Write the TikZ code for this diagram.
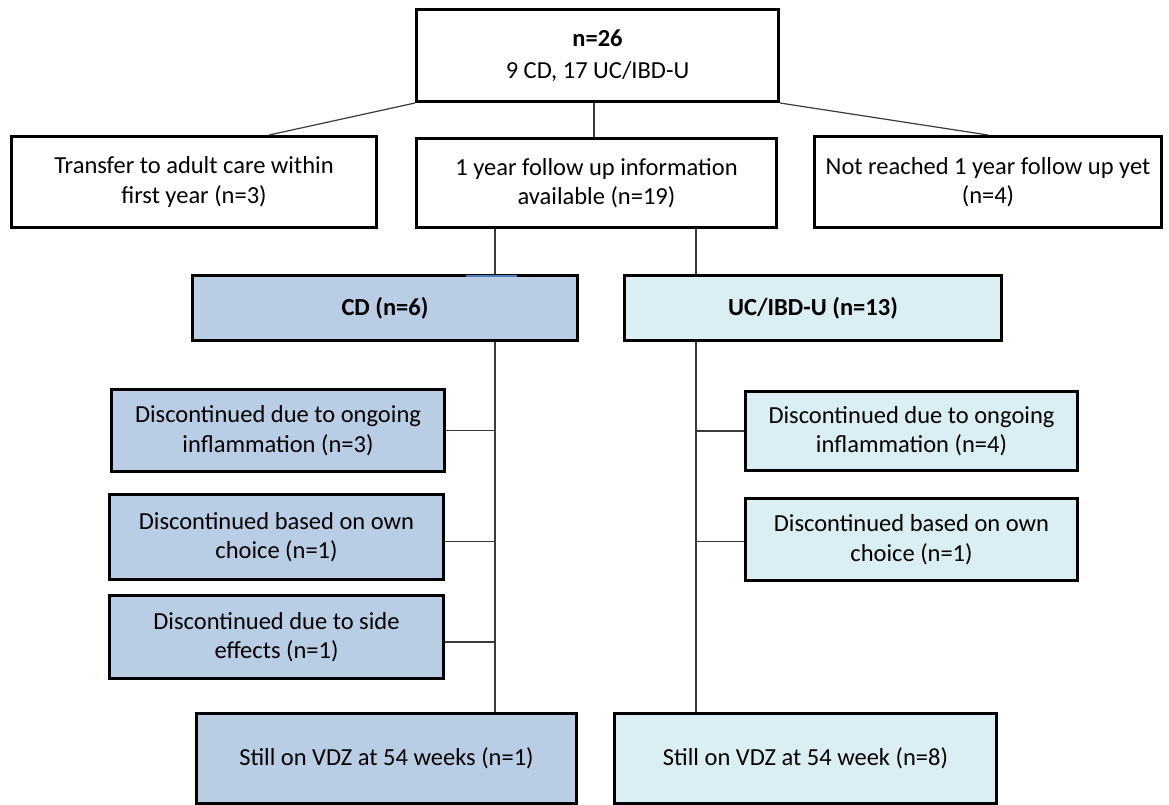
\documentclass[tikz,border=0pt]{standalone}
\usepackage{fontspec}
\setmainfont{Carlito}
\usetikzlibrary{calc}
\definecolor{cdfill}{HTML}{B9CDE5}
\definecolor{ucfill}{HTML}{DBEEF4}
\definecolor{connc}{HTML}{3A3A3A}
\definecolor{artc}{HTML}{4A7EBB}
\begin{document}
\begin{tikzpicture}[x=1pt,y=-1pt,
  box/.style={draw=black, line width=3pt, inner sep=0pt, anchor=north west, align=center,
    font=\fontsize{24.5}{29.5}\selectfont},
  cdbox/.style={box, fill=cdfill},
  ucbox/.style={box, fill=ucfill},
  conn/.style={draw=connc, line width=1.2pt}]
\useasboundingbox (0,0) rectangle (1169,804);
\fill[white] (0,0) rectangle (1169,804);
% top
\node[box, minimum width=362pt, minimum height=92pt, font=\fontsize{24.5}{32}\selectfont] (top) at (415,8) {\textbf{n=26}\\9 CD, 17 UC/IBD-U};
\node[box, minimum width=365pt, minimum height=91pt] (left) at (10,135) {Transfer to adult care within\\first year (n=3)};
\node[box, minimum width=360pt, minimum height=89pt] (mid) at (415,137) {1 year follow up information\\available (n=19)};
\node[box, minimum width=347pt, minimum height=91pt] (right) at (813,135) {Not reached 1 year follow up yet\\(n=4)};
% groups
\node[cdbox, minimum width=385pt, minimum height=65pt] (cd) at (191,274) {\textbf{CD (n=6)}};
\node[ucbox, minimum width=377pt, minimum height=65pt] (uc) at (623,274) {\textbf{UC/IBD-U (n=13)}};
% left column
\node[cdbox, minimum width=333pt, minimum height=82pt] (l1) at (110,388) {Discontinued due to ongoing\\inflammation (n=3)};
\node[cdbox, minimum width=334pt, minimum height=85pt] (l2) at (108,493) {Discontinued based on own\\choice (n=1)};
\node[cdbox, minimum width=334pt, minimum height=83pt] (l3) at (108,594) {Discontinued due to side\\effects (n=1)};
% right column
\node[ucbox, minimum width=332pt, minimum height=79pt] (r1) at (744,390) {Discontinued due to ongoing\\inflammation (n=4)};
\node[ucbox, minimum width=332pt, minimum height=82pt] (r2) at (744,497) {Discontinued based on own\\choice (n=1)};
% bottom
\node[cdbox, minimum width=380pt, minimum height=90pt] (bl) at (195,712) {Still on VDZ at 54 weeks (n=1)};
\node[ucbox, minimum width=382pt, minimum height=90pt] (br) at (613,712) {Still on VDZ at 54 week (n=8)};
% spines
\coordinate (sL) at (495,0);
\coordinate (sR) at (696,0);
% connectors
\draw[conn] (top.south west) -- ($(left.north west)!0.704!(left.north east)$);
\draw[conn] (top.south east) -- (right.north);
\draw[conn] (top.south -| 594,0) -- (mid.north -| 594,0);
\draw[conn] (mid.south -| sL) -- (cd.north -| sL);
\draw[conn] (mid.south -| sR) -- (uc.north -| sR);
\draw[conn] (cd.south -| sL) -- (bl.north -| sL);
\draw[conn] (uc.south -| sR) -- (br.north -| sR);
\draw[conn] (l1.east) -- (l1.east -| sL);
\draw[conn] ([yshift=-4.5pt]l2.east) -- ([yshift=-4.5pt]l2.east -| sL);
\draw[conn] ([yshift=-5pt]l3.east) -- ([yshift=-5pt]l3.east -| sL);
\draw[conn] (r1.west) -- (r1.west -| sR);
\draw[conn] ([yshift=-2pt]r2.west) -- ([yshift=-2pt]r2.west -| sR);
% small blue mark on CD box top
\draw[artc, line width=1.5pt] (466,276) -- (517,276);
\end{tikzpicture}
\end{document}
